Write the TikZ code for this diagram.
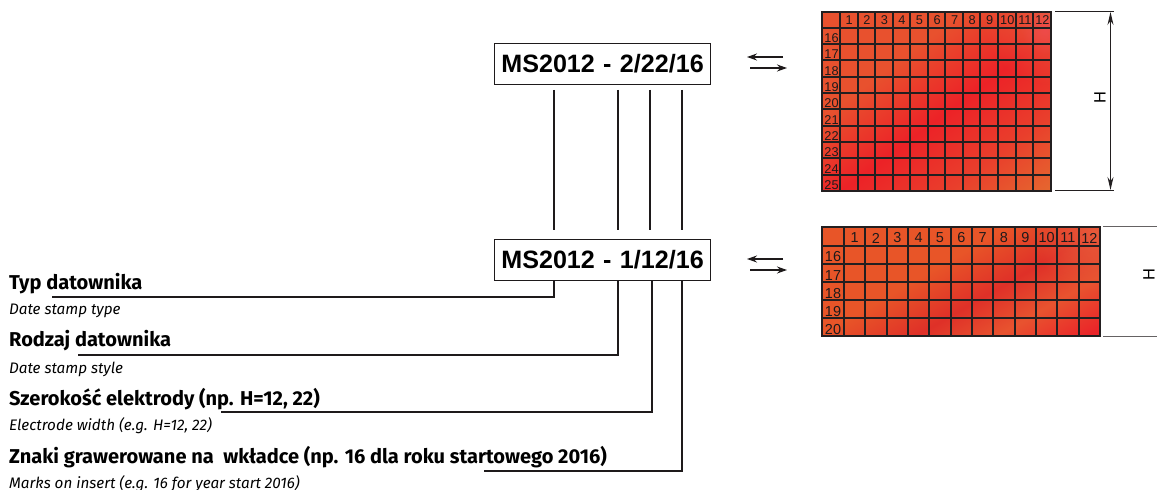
\documentclass[tikz,border=0pt]{standalone}
\usepackage{fontspec}
\setmainfont{Liberation Sans}
\newfontfamily\captionfont{Fira Sans}
\usetikzlibrary{arrows.meta,fadings}
\definecolor{gridink}{HTML}{231F20}
\definecolor{lineink}{HTML}{1E1A1B}
\definecolor{topa}{HTML}{E8512E}
\definecolor{topb}{HTML}{EC2227}
\definecolor{topm}{HTML}{E93F2C}
\definecolor{topc}{HTML}{E5672F}
\definecolor{lowa}{HTML}{E85528}
\definecolor{lowb}{HTML}{DF3028}
\definecolor{lowc}{HTML}{E8532F}
\definecolor{lowd}{HTML}{EA2529}
\definecolor{glowa}{HTML}{E85A3A}
\definecolor{glowb}{HTML}{EE4A4A}
\pgfdeclareverticalshading{topband}{100bp}{color(0bp)=(topa); color(44.5bp)=(topa); color(51.5bp)=(topb); color(58bp)=(topm); color(64bp)=(topc); color(100bp)=(topc)}
\pgfdeclareverticalshading{lowband}{100bp}{color(0bp)=(lowa); color(47.5bp)=(lowa); color(52.4bp)=(lowb); color(56.5bp)=(lowc); color(61bp)=(lowd); color(100bp)=(lowd)}
\tikzfading[name=glowfade, inner color=transparent!0, outer color=transparent!100]
\tikzset{
  codebox/.style={draw=lineink,line width=0.8pt,anchor=west,minimum width=216bp,minimum height=41bp,
    inner sep=0pt,text width=208bp,align=left,font=\fontsize{25.2}{25.2}\selectfont\bfseries},
  leader/.style={lineink,line width=2bp},
  swaparrow/.style={lineink,line width=1.2pt,-{Stealth[length=10pt,width=7pt]}},
  gridline/.style={gridink,line width=1.5bp},
  cellnum/.style={inner sep=0pt,text=gridink!85!black},
  headlabel/.style={anchor=base west,inner sep=0pt,font=\captionfont\bfseries\fontsize{20.1}{20.1}\selectfont},
  sublabel/.style={anchor=base west,inner sep=0pt,font=\captionfont\itshape\fontsize{15.3}{15.3}\selectfont},
  dimline/.style={gridink,line width=1bp},
}
\begin{document}
\begin{tikzpicture}[x=1bp,y=-1bp]
  \useasboundingbox (0,0) rectangle (1157,490);
  % upper plate
  \begin{scope}
    \clip (822,12) rectangle (1051,191);
    \shade[shading=topband,shading angle=216.87] (686,-149) rectangle (1186,351);
    \fill[glowa,path fading=glowfade] (1050,15) circle (70);
    \fill[glowb,path fading=glowfade] (1045,30) circle (24);
  \end{scope}
  \foreach \i in {1,...,12} {
    \draw[gridline] ({round(840+(\i-1)*17.56)},12) -- ({round(840+(\i-1)*17.56)},191);
    \node[cellnum,font=\fontsize{12.8}{12.8}\selectfont] (tc\i) at ({840+(\i-.5)*17.56+.5},20.5) {\i};
  }
  \foreach \i in {0,...,9} {
    \draw[gridline] (822,{round(27.7+\i*16.33)}) -- (1051,{round(27.7+\i*16.33)});
    \pgfmathtruncatemacro{\rownum}{16+\i}
    \node[cellnum,font=\fontsize{12.8}{12.8}\selectfont] (tr\i) at (831.5,{38+\i*16.33}) {\rownum};
  }
  \draw[gridline] (822,12) rectangle (1051,191);
  % lower plate
  \begin{scope}
    \clip (822,227) rectangle (1100,336);
    \shade[shading=lowband,shading angle=210] (711,32) rectangle (1211,532);
    \fill[glowa,path fading=glowfade] (1095,232) circle (62);
  \end{scope}
  \foreach \i in {1,...,13} {
    \draw[gridline] ({round(844+(\i-1)*21.33)},227) -- ({round(844+(\i-1)*21.33)},336);
  }
  \foreach \i in {1,...,12} {
    \node[cellnum,font=\fontsize{14.5}{14.5}\selectfont] (lc\i) at ({844+(\i-.5)*21.33},238) {\i};
  }
  \foreach \i in {0,...,4} {
    \draw[gridline] (822,{round(245.7+\i*18.06)}) -- (1100,{round(245.7+\i*18.06)});
    \pgfmathtruncatemacro{\rownum}{16+\i}
    \node[cellnum,font=\fontsize{14.5}{14.5}\selectfont] (lr\i) at (833,{257+\i*18.06}) {\rownum};
  }
  \draw[gridline] (822,227) rectangle (1100,336);
  % height marks
  \coordinate (hta) at (1055,11.5);
  \coordinate (htb) at (1114,11.5);
  \coordinate (hba) at (1055,190.5);
  \coordinate (hbb) at (1114,190.5);
  \draw[dimline] (hta) -- (htb);
  \draw[dimline] (hba) -- (hbb);
  \coordinate (hup) at (1110.5,12);
  \coordinate (hdn) at (1110.5,190);
  \draw[dimline,{Stealth[length=13pt,width=6pt]}-{Stealth[length=13pt,width=6pt]}] (hup) -- (hdn);
  \node[rotate=90,inner sep=0pt,font=\fontsize{16.5}{16.5}\selectfont] (hlabup) at (1100,97.5) {H};
  \coordinate (lta) at (1103,226.5);
  \coordinate (ltb) at (1157,226.5);
  \coordinate (lba) at (1103,336.5);
  \coordinate (lbb) at (1157,336.5);
  \draw[dimline,gridink!70] (lta) -- (ltb);
  \draw[dimline,gridink!70] (lba) -- (lbb);
  \node[rotate=90,inner sep=0pt,font=\fontsize{16.5}{16.5}\selectfont] (hlablo) at (1149,275) {H};
  % code boxes
  \node[codebox] (codeup) at (493.5,64) {\hspace*{3.5pt}MS2012 - 2/22/16};
  \node[codebox] (codelo) at (493.5,259.5) {\hspace*{3.5pt}MS2012 - 1/12/16};
  % swap arrows
  \coordinate (sua) at (783,57);
  \coordinate (sub) at (747,57);
  \coordinate (suc) at (750,68);
  \coordinate (sud) at (787,68);
  \draw[swaparrow] (sua) -- (sub);
  \draw[swaparrow] (suc) -- (sud);
  \coordinate (sla) at (783,259);
  \coordinate (slb) at (747,259);
  \coordinate (slc) at (750,270);
  \coordinate (sld) at (787,270);
  \draw[swaparrow] (sla) -- (slb);
  \draw[swaparrow] (slc) -- (sld);
  % links between the boxes
  \foreach \x/\nm in {554/a,618/b,650/c,682/d} {
    \coordinate (up\nm) at (\x,90);
    \coordinate (lo\nm) at (\x,230);
    \draw[leader] (up\nm) -- (lo\nm);
  }
  % labels
  \node[headlabel] (typ) at (9,290) {Typ datownika};
  \node[sublabel] (typen) at (9,315) {Date stamp type};
  \node[headlabel] (rodzaj) at (9,347) {Rodzaj datownika};
  \node[sublabel] (rodzajen) at (9,374) {Date stamp style};
  \node[headlabel] (szer) at (9,405) {Szerokość elektrody (np. H=12, 22)};
  \node[sublabel] (szeren) at (9,430) {Electrode width (e.g. H=12, 22)};
  \node[headlabel] (znaki) at (9,463) {Znaki grawerowane na\ \ wkładce (np. 16 dla roku startowego 2016)};
  \node[sublabel] (znakien) at (9,488) {Marks on insert (e.g. 16 for year start 2016)};
  % leaders
  \coordinate (ta) at (52,297);
  \coordinate (ra) at (78,355);
  \coordinate (sa) at (221,412);
  \coordinate (za) at (484,471);
  \draw[leader] (ta) -| (554,280);
  \draw[leader] (ra) -| (618,280);
  \draw[leader] (sa) -| (652,280);
  \draw[leader] (za) -| (682,280);
\end{tikzpicture}
\end{document}
